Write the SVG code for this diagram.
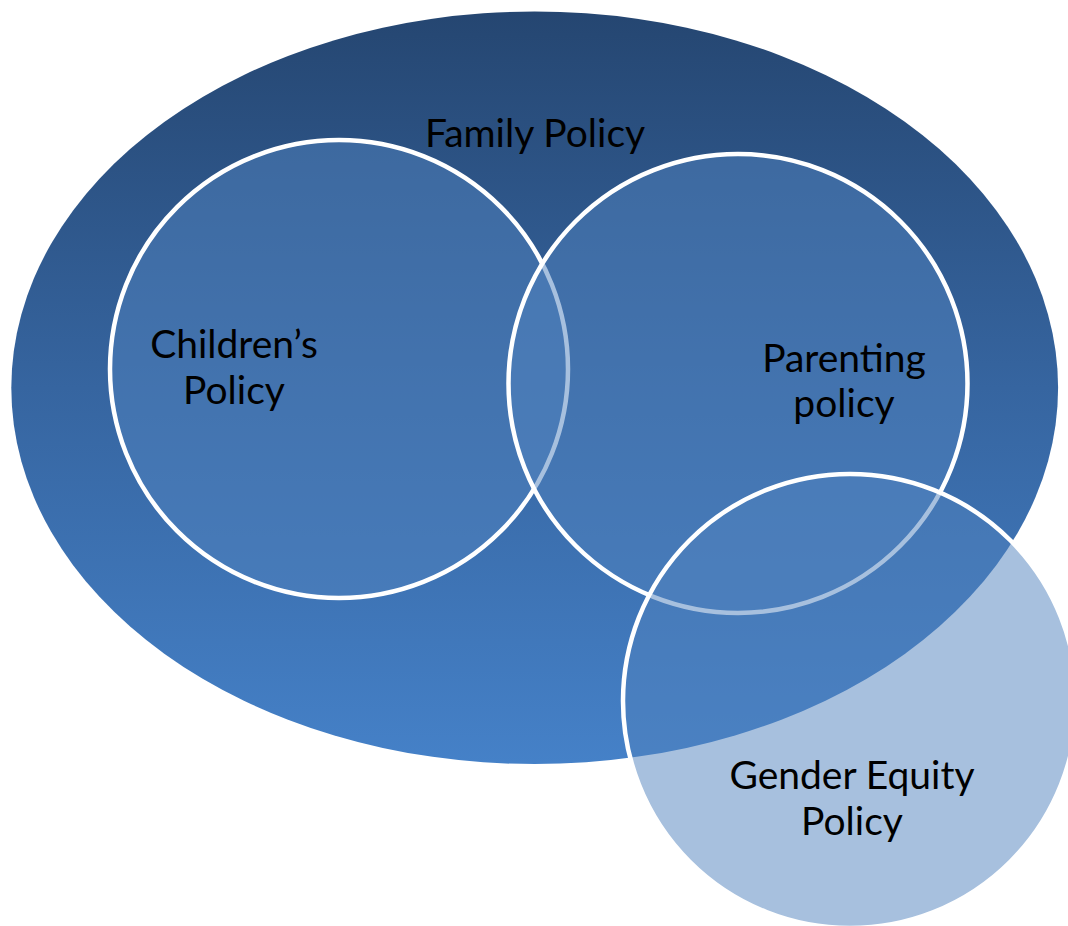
<svg xmlns="http://www.w3.org/2000/svg" width="1068" height="926" viewBox="0 0 1068 926">
  <defs>
    <linearGradient id="familyGrad" x1="0" y1="0" x2="0" y2="1">
      <stop offset="0" stop-color="#254671"/>
      <stop offset="0.5" stop-color="#3665a0"/>
      <stop offset="1" stop-color="#4581c8"/>
    </linearGradient>
    <style>
      .ring { fill: #4f81bd; fill-opacity: 0.5; stroke: #ffffff; stroke-width: 4.5; }
      .label { font-family: Lato, "Open Sans", "Liberation Sans", sans-serif; font-size: 39px; fill: #000000; text-anchor: middle; }
    </style>
  </defs>
  <rect width="1068" height="926" fill="#ffffff"/>
  <g id="family-policy">
    <ellipse cx="534.7" cy="387.8" rx="523.4" ry="376.3" fill="url(#familyGrad)"/>
    <text class="label" x="535" y="147">Family Policy</text>
  </g>
  <g id="childrens-policy">
    <circle class="ring" cx="339" cy="369" r="229"/>
    <text class="label" x="234" y="358">Children’s</text>
    <text class="label" x="234" y="404">Policy</text>
  </g>
  <g id="parenting-policy">
    <circle class="ring" cx="738" cy="383.5" r="229.5"/>
    <text class="label" x="844" y="372">Parenting</text>
    <text class="label" x="844" y="417">policy</text>
  </g>
  <g id="gender-equity-policy">
    <circle class="ring" cx="850" cy="701" r="227"/>
    <text class="label" x="852" y="789">Gender Equity</text>
    <text class="label" x="852" y="835">Policy</text>
  </g>
</svg>
